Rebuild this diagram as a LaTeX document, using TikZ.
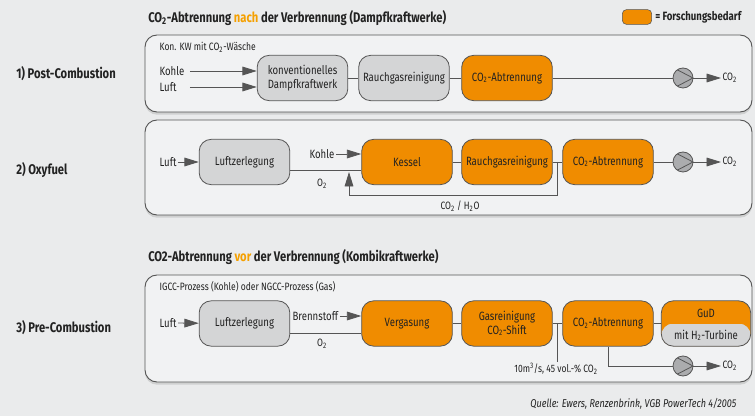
\documentclass[tikz,border=0pt]{standalone}
\usepackage{fontspec}
\setmainfont{Fira Sans}[FakeStretch=0.8]
\usetikzlibrary{arrows.meta,shadows}

\definecolor{hgrund}{HTML}{EAEBEC}
\definecolor{feldgrau}{HTML}{F1F2F3}
\definecolor{kastengrau}{HTML}{D4D5D6}
\definecolor{verdgrau}{HTML}{ABACAE}
\definecolor{forschorange}{HTML}{F08C00}
\definecolor{titelorange}{HTML}{F5A000}
\definecolor{rahmen}{HTML}{555555}
\definecolor{schrift}{HTML}{222222}

\newcommand{\cotwo}{CO\textsubscript{2}}

\begin{document}
\begin{tikzpicture}[x=0.75pt,y=-0.75pt]
\tikzset{feld/.style={draw=rahmen, fill=feldgrau, line width=0.7pt, rounded corners=9pt,
    drop shadow={shadow xshift=0pt, shadow yshift=-2pt, opacity=0.25}},
  anlage/.style={draw=rahmen, line width=0.6pt, rounded corners=9pt, minimum width=68pt,
    minimum height=34pt, align=center, inner sep=1pt, text=schrift,
    font=\fontsize{9}{10}\selectfont},
  grau/.style={anlage, fill=kastengrau},
  forschung/.style={anlage, fill=forschorange},
  leitung/.style={draw=rahmen, line width=0.6pt},
  pfeil/.style={leitung, -{Triangle[length=3.8mm,width=2.3mm]}},
  klein/.style={text=schrift, inner sep=1pt, font=\fontsize{8}{9}\selectfont},
  titel/.style={text=schrift, inner sep=0pt, font=\bfseries\fontsize{10.5}{12}\selectfont},
  verdichter/.style={circle, draw=rahmen, fill=verdgrau, line width=0.6pt, minimum size=15pt,
    inner sep=0pt, path picture={\draw[rahmen, line width=0.6pt, shift={(path picture bounding box.center)}]
      (125:7.5pt) -- (0:7.5pt) -- (235:7.5pt);}}}
\fill[hgrund] (0,0) rectangle (755,416);
\useasboundingbox (0,0) rectangle (755,416);

% Legende und Titel
\node[titel, anchor=west] (t1) at (148,18) {\cotwo-Abtrennung \textcolor{titelorange}{nach} der Verbrennung (Dampfkraftwerke)};
\node[draw=rahmen, fill=forschorange, rounded corners=3pt, minimum width=22pt, minimum height=11pt] (leg) at (637,17) {};
\node[titel, anchor=west, font=\bfseries\fontsize{9}{10}\selectfont] (legtext) at (655,17) {= Forschungsbedarf};

% 1) Post-Combustion
\node[titel, anchor=west] (p1) at (16,74) {1) Post-Combustion};
\draw[feld] (145,35) rectangle (752,112);
\node[klein, anchor=west] (k1) at (158,47) {Kon. KW mit \cotwo-Wäsche};
\node[klein, anchor=west, font=\fontsize{9}{10}\selectfont] (kohle1) at (158,71) {Kohle};
\node[klein, anchor=west, font=\fontsize{9}{10}\selectfont] (luft1) at (158,87) {Luft};
\node[grau] (kw) at (302.5,78) {konventionelles\\Dampfkraftwerk};
\node[grau] (rgr1) at (404,78) {Rauchgasreinigung};
\node[forschung] (abtr1) at (507,78) {\cotwo-Abtrennung};
\node[verdichter] (v1) at (683,78) {};
\node[klein, anchor=west] (co2a) at (721,78) {\cotwo};
\draw[pfeil] ([xshift=3pt]kohle1.east) -- (kw.west |- kohle1);
\draw[pfeil] ([xshift=3pt]kohle1.east |- luft1) -- (kw.west |- luft1);
\draw[leitung] (kw) -- (rgr1);
\draw[leitung] (rgr1) -- (abtr1);
\draw[leitung] (abtr1) -- (v1);
\draw[pfeil] (v1) -- (co2a);

% 2) Oxyfuel
\node[titel, anchor=west] (p2) at (16,170) {2) Oxyfuel};
\draw[feld] (145,120) rectangle (752,215);
\node[klein, anchor=west, font=\fontsize{9}{10}\selectfont] (luft2) at (158,162) {Luft};
\node[grau] (lz2) at (244.5,162) {Luftzerlegung};
\node[klein, anchor=west, font=\fontsize{9}{10}\selectfont] (kohle2) at (308,154) {Kohle};
\node[forschung] (kessel) at (407,162) {Kessel};
\node[forschung] (rgr2) at (507,162) {Rauchgasreinigung};
\node[forschung] (abtr2) at (608,162) {\cotwo-Abtrennung};
\node[verdichter] (v2) at (683,162) {};
\node[klein, anchor=west] (co2b) at (721,162) {\cotwo};
\node[klein] (o2b) at (322,184) {O\textsubscript{2}};
\node[klein] (rueck) at (460,206) {\cotwo{} / H\textsubscript{2}O};
\coordinate (o2zu) at (349,170);
\coordinate (abzw2) at (557.5,162);
\draw[pfeil] (luft2) -- (lz2);
\draw[pfeil] (kohle2) -- (kessel.west |- kohle2);
\draw[leitung] (lz2.east |- o2zu) -- (kessel.west |- o2zu);
\draw[leitung] (kessel) -- (rgr2);
\draw[leitung] (rgr2) -- (abtr2);
\draw[pfeil, shorten >=1.5pt] (abzw2) -- ++(0,33) -| (o2zu);
\draw[leitung] (abtr2) -- (v2);
\draw[pfeil] (v2) -- (co2b);

% Titel vor der Verbrennung
\node[titel, anchor=west] (t2) at (148,257) {CO2-Abtrennung \textcolor{titelorange}{vor} der Verbrennung (Kombikraftwerke)};

% 3) Pre-Combustion
\node[titel, anchor=west] (p3) at (16,328) {3) Pre-Combustion};
\draw[feld] (145,275) rectangle (752,382);
\node[klein, anchor=west] (k3) at (158,287) {IGCC-Prozess (Kohle) oder NGCC-Prozess (Gas)};
\node[klein, anchor=west, font=\fontsize{9}{10}\selectfont] (luft3) at (158,323) {Luft};
\node[grau] (lz3) at (244.5,323.5) {Luftzerlegung};
\node[klein, anchor=west, font=\fontsize{9}{10}\selectfont] (brenn) at (291,316) {Brennstoff};
\node[forschung] (verg) at (407,323.5) {Vergasung};
\node[forschung] (gas) at (507,323.5) {Gasreinigung\\\cotwo-Shift};
\node[forschung] (abtr3) at (608,323.5) {\cotwo-Abtrennung};
\node[forschung, minimum width=67pt, path picture={\fill[kastengrau] (path picture bounding box.west) rectangle (path picture bounding box.south east);
    \draw[forschorange, line width=0.8pt] (path picture bounding box.west) -- (path picture bounding box.east);}] (gud) at (706,323.5) {};
\node[klein, font=\fontsize{9}{10}\selectfont] (gudo) at (706,313) {GuD};
\node[klein, font=\fontsize{9}{10}\selectfont] (gudu) at (706,335) {mit H\textsubscript{2}-Turbine};
\node[klein] (o2c) at (322,344) {O\textsubscript{2}};
\node[klein] (menge) at (556,369) {10m\textsuperscript{3}/s, 45 vol.-\% \cotwo};
\node[verdichter] (v3) at (683,366) {};
\node[klein, anchor=west] (co2c) at (721,366) {\cotwo};
\coordinate (abzw3) at (557.5,323.5);
\draw[pfeil] (luft3) -- (lz3);
\draw[pfeil] (brenn) -- (verg.west |- brenn);
\draw[leitung] ([yshift=-7.5pt]lz3.east) -- ([yshift=-7.5pt]verg.west);
\draw[leitung] (verg) -- (gas);
\draw[leitung] (gas) -- (abtr3);
\draw[leitung] (abtr3) -- (gud);
\draw[leitung] (abzw3) -- (menge.north -| abzw3);
\draw[leitung] (abtr3.south) |- (v3);
\draw[pfeil] (v3) -- (co2c);

% Quelle
\node[anchor=east, text=schrift, font=\itshape\fontsize{8.5}{10}\selectfont] (quelle) at (741,404) {Quelle: Ewers, Renzenbrink, VGB PowerTech 4/2005};
\end{tikzpicture}
\end{document}
